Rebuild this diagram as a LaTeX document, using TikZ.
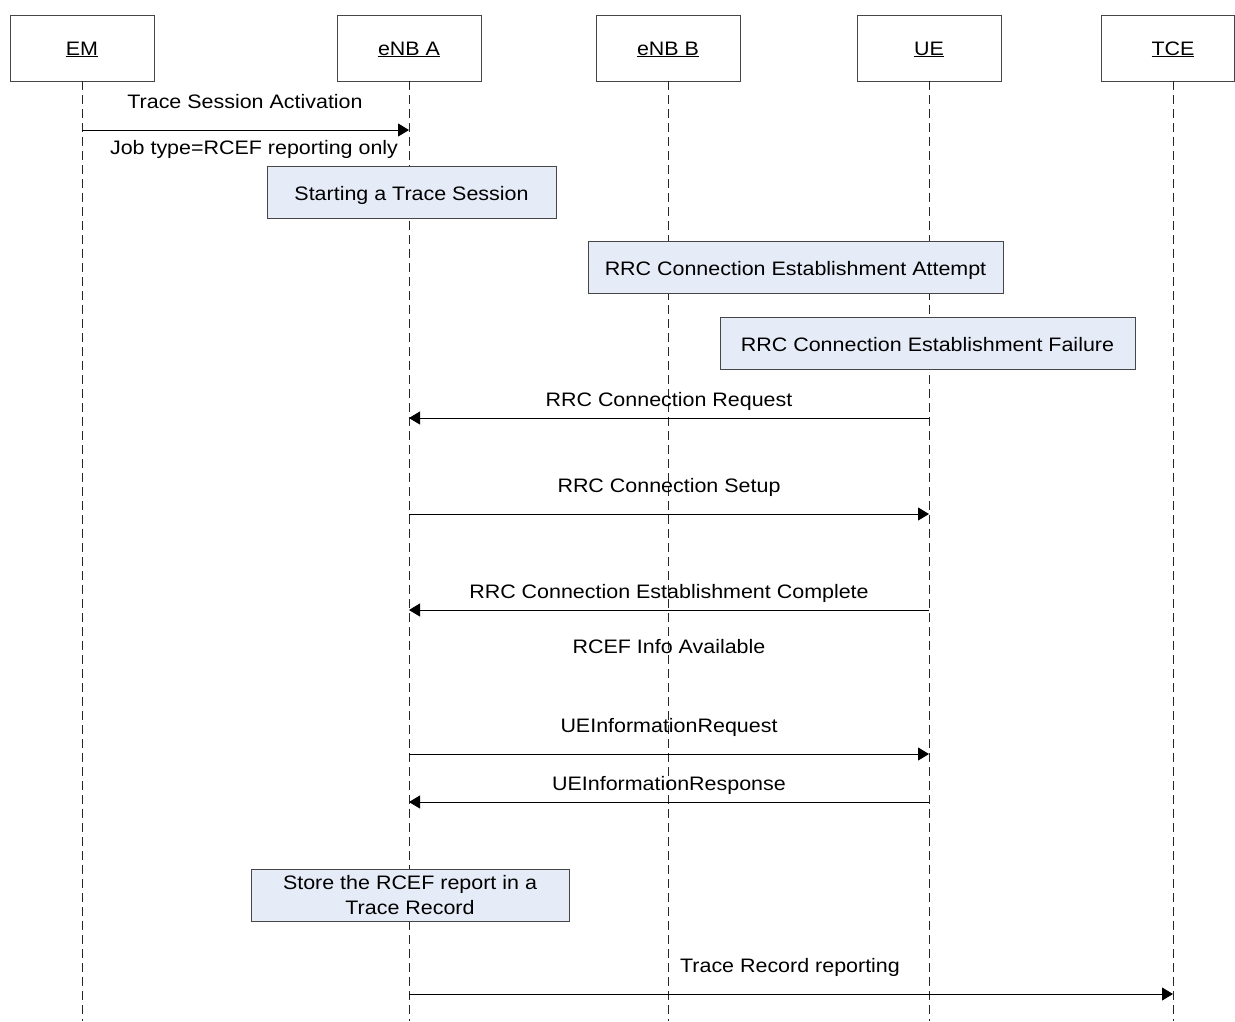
\documentclass[tikz,border=0pt]{standalone}
\usepackage{fontspec}
\setmainfont{Liberation Sans}[FakeStretch=1.1]
\usetikzlibrary{arrows.meta}
\definecolor{boxfill}{RGB}{230,236,247}
\definecolor{edge}{RGB}{70,70,70}
\begin{document}
\begin{tikzpicture}[x=1pt,y=-1pt,
  every node/.style={font=\fontsize{19.5}{22}\selectfont, inner sep=0pt},
  head/.style={draw=edge, line width=0.9pt, minimum width=144pt, minimum height=66pt},
  headtxt/.style={text height=18pt, text depth=4pt},
  note/.style={draw=edge, fill=boxfill, line width=0.9pt, minimum height=52pt, align=center},
  onel/.style={text height=20pt, text depth=4pt},
  life/.style={dash pattern=on 9pt off 5pt, line width=0.9pt, draw=black!85},
  msg/.style={line width=0.9pt, -{Triangle[length=11pt,width=13pt]}},
  lbl/.style={anchor=base}
]
\useasboundingbox (0,0) rectangle (1235,1021);

% heads
\node[head] (EM) at (82,48) {};
\node[headtxt] (EMt) at (EM.center) {\underline{EM}};
\node[head] (ENBA) at (409,48) {};
\node[headtxt] (ENBAt) at (ENBA.center) {\underline{eNB A}};
\node[head] (ENBB) at (668,48) {};
\node[headtxt] (ENBBt) at (ENBB.center) {\underline{eNB B}};
\node[head] (UE) at (929,48) {};
\node[headtxt] (UEt) at (UE.center) {\underline{UE}};
\node[head, minimum width=133pt] (TCE) at (1167.5,48) {};
\node[headtxt] (TCEt) at (1173,48) {\underline{TCE}};

% lifeline ends
\coordinate (EMe) at (82,1021);
\coordinate (ENBAe) at (409,1021);
\coordinate (ENBBe) at (668,1021);
\coordinate (UEe) at (929,1021);
\coordinate (TCEe) at (1173,1021);
\draw[life] (EM.south) -- (EMe);
\draw[life] (ENBA.south) -- (ENBAe);
\draw[life] (ENBB.south) -- (ENBBe);
\draw[life] (UE.south) -- (UEe);
\draw[life] (TCE.south -| TCEe) -- (TCEe);

% message endpoints
\coordinate (m1a) at (82,130);   \coordinate (m1b) at (409,130);
\coordinate (m2a) at (929,418);  \coordinate (m2b) at (409,418);
\coordinate (m3a) at (409,514);  \coordinate (m3b) at (929,514);
\coordinate (m4a) at (929,610);  \coordinate (m4b) at (409,610);
\coordinate (m5a) at (409,754);  \coordinate (m5b) at (929,754);
\coordinate (m6a) at (929,802);  \coordinate (m6b) at (409,802);
\coordinate (m7a) at (409,994);  \coordinate (m7b) at (1173,994);

\draw[msg] (m1a) -- (m1b);
\node[lbl] (t1) at (245,108) {Trace Session Activation};
\node[lbl] (t1b) at (254,154) {Job type=RCEF reporting only};

\node[note, onel, minimum width=289pt] (n1) at (411.5,192) {Starting a Trace Session};
\node[note, onel, minimum width=415pt] (n2) at (795.5,267) {RRC Connection Establishment Attempt};
\node[note, onel, minimum width=415pt] (n3) at (927.5,343.5) {RRC Connection Establishment Failure};

\draw[msg] (m2a) -- (m2b);
\node[lbl] (t2) at (669,406) {RRC Connection Request};
\draw[msg] (m3a) -- (m3b);
\node[lbl] (t3) at (669,492) {RRC Connection Setup};
\draw[msg] (m4a) -- (m4b);
\node[lbl] (t4) at (669,598) {RRC Connection Establishment Complete};
\node[lbl] (t4b) at (669,653) {RCEF Info Available};
\draw[msg] (m5a) -- (m5b);
\node[lbl] (t5) at (669,732) {UEInformationRequest};
\draw[msg] (m6a) -- (m6b);
\node[lbl] (t6) at (669,790) {UEInformationResponse};

\node[note, minimum width=318pt, font=\fontsize{19.5}{25}\selectfont] (n4) at (410,895) {Store the RCEF report in a\\Trace Record};

\draw[msg] (m7a) -- (m7b);
\node[lbl] (t7) at (790,972) {Trace Record reporting};
\end{tikzpicture}
\end{document}
